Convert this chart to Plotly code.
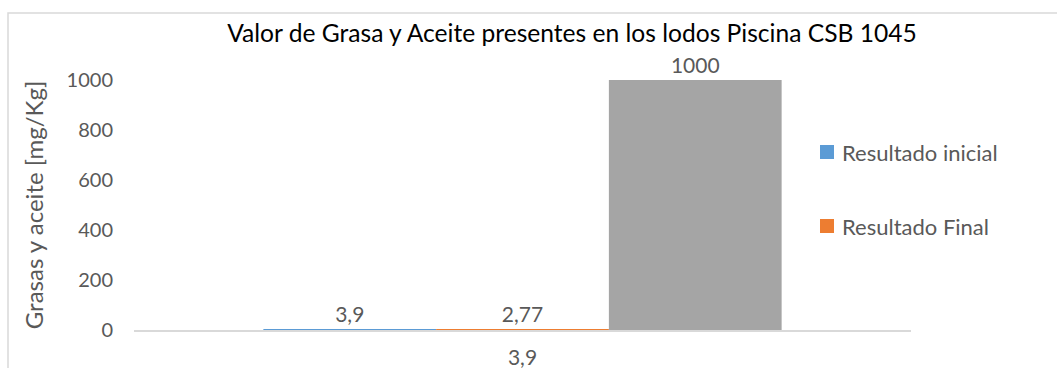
import plotly.graph_objects as go

categories = ["3,9"]
series_names = ["Resultado inicial", "Resultado Final", ""]
series_values = [[3.9], [2.77], [1000]]
series_colors = ["#5B9BD5", "#ED7D31", "#A5A5A5"]
show_in_legend = [True, True, False]
y_ticks = [0, 200, 400, 600, 800, 1000]

FONT = "Lato"
TXT = "#595959"

# plot-area pixel geometry (used for paper-coordinate placement of frame/legend)
PL, PR, PT, PB = 134, 911, 80, 330
W, H = PR - PL, PB - PT

def px_x(p):
    return (p - PL) / W

def px_y(p):
    return (PB - p) / H

def fmt(v):
    return ("%g" % v).replace(".", ",")

fig = go.Figure()
for i, (name, vals, col) in enumerate(zip(series_names, series_values, series_colors)):
    fig.add_trace(go.Bar(
        x=categories, y=vals, name=name, marker_color=col, marker_line_width=0,
        text=[fmt(v) for v in vals], textposition="outside",
        textfont=dict(family=FONT, size=21, color=TXT),
        cliponaxis=False, showlegend=False,
    ))

shapes = [dict(type="rect", xref="paper", yref="paper",
               x0=px_x(8), x1=px_x(1070), y0=px_y(390), y1=px_y(13),
               line=dict(color="#D9D9D9", width=1.5), fillcolor="rgba(0,0,0,0)", layer="below")]
annotations = []
leg_y = [152, 226]
k = 0
for name, col, sl in zip(series_names, series_colors, show_in_legend):
    if not sl:
        continue
    cy = leg_y[k]
    k += 1
    shapes.append(dict(type="rect", xref="paper", yref="paper",
                       x0=px_x(820), x1=px_x(834), y0=px_y(cy + 7), y1=px_y(cy - 7),
                       line=dict(width=0), fillcolor=col))
    annotations.append(dict(text=name, xref="paper", yref="paper", x=px_x(840), y=px_y(cy),
                            xanchor="left", yanchor="middle", showarrow=False,
                            font=dict(family=FONT, size=22, color=TXT)))

fig.update_layout(
    width=1057, height=368,
    margin=dict(l=PL, r=1057 - PR, t=PT, b=368 - PB, autoexpand=False),
    paper_bgcolor="white", plot_bgcolor="white",
    barmode="group", bargap=0.333, bargroupgap=0,
    showlegend=False,
    font=dict(family=FONT, color=TXT),
    title=dict(text="Valor de Grasa y Aceite presentes en los lodos Piscina CSB 1045",
               x=572/1057, xanchor="center", xref="container",
               y=1-33/368, yanchor="middle", yref="container",
               font=dict(family=FONT, size=24.6, color="#000000")),
    xaxis=dict(type="category", showline=True, linecolor="#D9D9D9", linewidth=1.5,
               showgrid=False, ticks="", tickfont=dict(family=FONT, size=21, color=TXT),
               ticklabelstandoff=8, automargin=False),
    yaxis=dict(range=[0, 1000], tickvals=y_ticks, showgrid=False, zeroline=False,
               showline=False, ticks="", tickfont=dict(family=FONT, size=20, color=TXT),
               ticklabelstandoff=20, automargin=False,
               title=dict(text="Grasas y aceite [mg/Kg]", standoff=16,
                          font=dict(family=FONT, size=24, color=TXT))),
    shapes=shapes,
    annotations=annotations,
)

fig.write_html("out.html")
